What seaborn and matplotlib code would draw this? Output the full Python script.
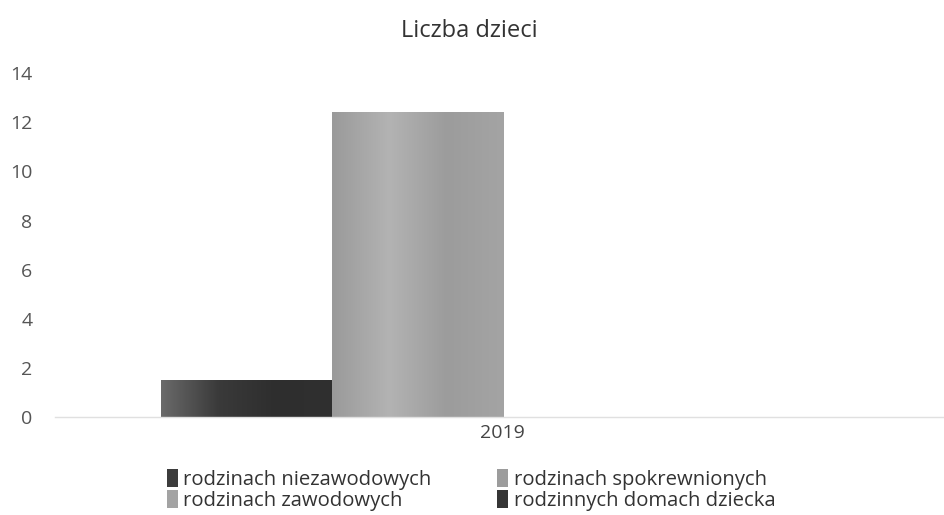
import matplotlib
matplotlib.use("Agg")
import matplotlib.pyplot as plt
import seaborn as sns
import pandas as pd
import numpy as np
from matplotlib.patches import Patch
from matplotlib.colors import LinearSegmentedColormap

categories = ["2019"]
series = ["rodzinach niezawodowych", "rodzinach spokrewnionych",
          "rodzinach zawodowych", "rodzinnych domach dziecka"]
values = [1.5, 12.4, 0.0, 0.0]
colors = ["#3c3c3c", "#9c9c9c", "#a3a3a3", "#353535"]
gradients = [["#6a6a6a", "#3a3a3a", "#2e2e2e", "#303030"],
             ["#9a9a9a", "#b3b3b3", "#9c9c9c", "#a4a4a4"],
             ["#a3a3a3", "#a3a3a3"],
             ["#353535", "#353535"]]
yticks = [0, 2, 4, 6, 8, 10, 12, 14]

sns.set_theme(style="white")
plt.rcParams["font.family"] = ["Open Sans", "DejaVu Sans"]

df = pd.DataFrame({"rok": categories * len(series), "seria": series, "wartosc": values})

fig = plt.figure(figsize=(9.44, 5.15), dpi=100)
ax = fig.add_axes([0.058, 0.19, 0.942, 0.668])
sns.barplot(data=df, x="rok", y="wartosc", hue="seria", hue_order=series,
            palette=colors, width=0.8, saturation=1, ax=ax, legend=False,
            edgecolor="white", linewidth=0.6)

# horizontal gradient shading on the bars drawn by seaborn
for i, p in enumerate(ax.patches[:len(series)]):
    if p.get_height() <= 0:
        continue
    cmap = LinearSegmentedColormap.from_list("g%d" % i, gradients[i])
    x0, w, h = p.get_x(), p.get_width(), p.get_height()
    im = ax.imshow(np.linspace(0, 1, 256).reshape(1, -1), cmap=cmap,
                   extent=[x0, x0 + w, 0, h], aspect="auto",
                   interpolation="bilinear", zorder=p.get_zorder() + 0.1)
    im.set_clip_path(p)

ax.set_xlim(-0.524, 0.516)
ax.set_ylim(0, 14)
ax.set_yticks(yticks)
ax.set_yticklabels([str(t) for t in yticks], fontsize=14, color="#555555")
ax.tick_params(axis="y", pad=16, length=0)
ax.tick_params(axis="x", pad=5, length=0, labelsize=14, labelcolor="#444444")
ax.set_xlabel("")
ax.set_ylabel("")
for s in ["top", "right", "left"]:
    ax.spines[s].set_visible(False)
ax.spines["bottom"].set_color("#e0e0e0")
ax.spines["bottom"].set_linewidth(1)

fig.text(0.497, 0.94, "Liczba dzieci", ha="center", va="center",
         fontsize=17, color="#333333")

order = [0, 2, 1, 3]
handles = [Patch(facecolor=colors[i], edgecolor="none") for i in order]
labels = [series[i] for i in order]
fig.legend(handles, labels, ncol=2, loc="center", bbox_to_anchor=(0.499, 0.048),
           frameon=False, fontsize=14.6, handlelength=0.55, handleheight=1.0,
           handletextpad=0.25, columnspacing=3.25, labelspacing=0.0,
           labelcolor="#333333")

fig.savefig("out.png", dpi=100)
